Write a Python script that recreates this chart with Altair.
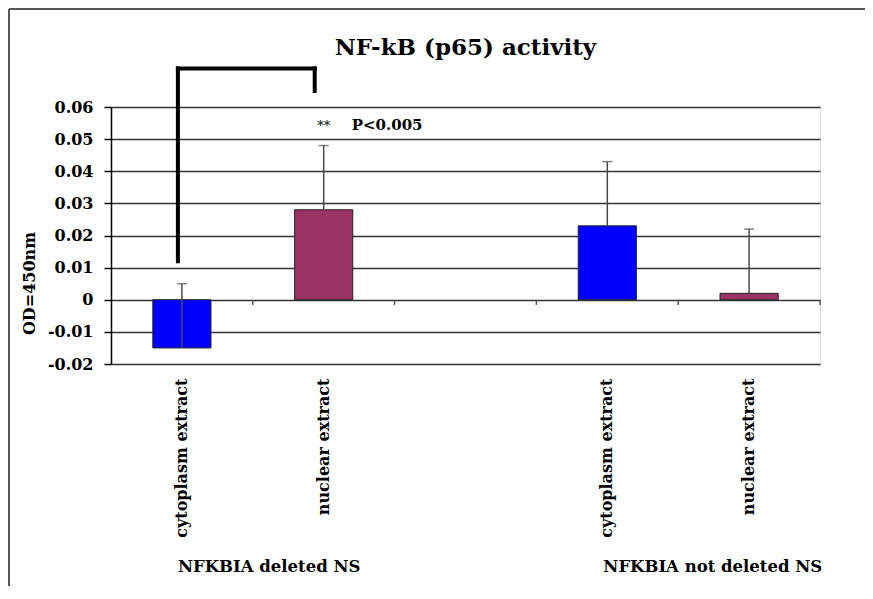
import altair as alt
import pandas as pd

# ---- data ----
categories = ["cyto_del", "nuc_del", "gap", "cyto_not", "nuc_not"]
category_labels = ["cytoplasm extract", "nuclear extract", "", "cytoplasm extract", "nuclear extract"]

bar_categories = ["cyto_del", "nuc_del", "cyto_not", "nuc_not"]
bar_fraction = ["cytoplasm", "nuclear", "cytoplasm", "nuclear"]
bar_values = [-0.015, 0.028, 0.023, 0.002]
error_values = [0.020, 0.020, 0.020, 0.020]

group_anchor = ["cyto_del", "cyto_not"]
group_labels = ["NFKBIA deleted NS", "NFKBIA not deleted NS"]

y_ticks = [-0.02, -0.01, 0.0, 0.01, 0.02, 0.03, 0.04, 0.05, 0.06]

# significance bracket (data units)
bracket_left_cat = "cyto_del"
bracket_right_cat = "nuc_del"
bracket_left_bottom = 0.012
bracket_top = 0.072
bracket_right_bottom = 0.065
stars_text = "**"
stars_y = 0.054
pvalue_text = "P<0.005"
pvalue_y = 0.0545

FONT = "DejaVu Serif"
BLUE = "#0000FF"
MAROON = "#993366"

bars = pd.DataFrame({
    "cat": bar_categories,
    "fraction": bar_fraction,
    "value": bar_values,
    "upper": [v + e for v, e in zip(bar_values, error_values)],
})

label_expr = " : ".join(
    f"datum.value == '{k}' ? '{v}'" for k, v in zip(categories, category_labels)
) + " : ''"

x_scale = alt.Scale(domain=categories, paddingInner=0, paddingOuter=0)
y_scale = alt.Scale(domain=[-0.02, 0.06], nice=False, zero=False)

x_axis = alt.Axis(
    labelExpr=label_expr, labelAngle=270, labelFont=FONT, labelFontSize=16,
    labelFontWeight="bold", labelColor="black", labelPadding=14,
    ticks=False, tickSize=0, domain=False, grid=False, labelLimit=300,
)

y_axis = alt.Axis(
    values=y_ticks, tickCount=9, labelOverlap=False,
    labelExpr="datum.value == 0 ? '0' : (datum.value < 0 ? '-' + format(-datum.value, '.2f') : format(datum.value, '.2f'))",
    labelFont=FONT, labelFontSize=16, labelFontWeight="bold", labelColor="black",
    labelPadding=11, tickSize=7, tickColor="black", tickWidth=1.5,
    domainColor="black", domainWidth=1.5,
    grid=True, gridColor="#333333", gridWidth=1.5,
    title="OD=450nm", titleFont=FONT, titleFontSize=16, titleFontWeight="bold",
    titleColor="black", titleAngle=270, titleX=-82, titleY=176,
    titleAlign="center", titleBaseline="middle",
)


def X(field, **kw):
    return alt.X(field, scale=x_scale, sort=categories, title=None, axis=x_axis, **kw)


def Y(field):
    return alt.Y(field, scale=y_scale, axis=y_axis)


bar_layer = alt.Chart(bars).mark_bar(
    width=alt.RelativeBandSize(0.41), stroke="#222222", strokeWidth=1
).encode(
    x=X("cat:N"),
    y=Y("value:Q"),
    color=alt.Color("fraction:N", scale=alt.Scale(domain=["cytoplasm", "nuclear"], range=[BLUE, MAROON]), legend=None),
)

err_line = alt.Chart(bars).mark_rule(color="#4a4a4a", strokeWidth=1.5).encode(
    x=X("cat:N"), y=Y("value:Q"), y2="upper:Q",
)
err_cap = alt.Chart(bars).mark_tick(color="#4a4a4a", thickness=1.5, size=10, orient="horizontal").encode(
    x=X("cat:N"), y=Y("upper:Q"),
)

# x-axis line at zero with tick marks at category boundaries
zero_df = pd.DataFrame({"cat": categories})
zero_ticks = alt.Chart(zero_df).mark_rule(color="#555555", strokeWidth=1.5).encode(
    x=X("cat:N", bandPosition=1),
    y=alt.YDatum(0.0),
    y2=alt.Y2Datum(-0.0016),
)

# bracket
br_df = pd.DataFrame({"l": [bracket_left_cat], "r": [bracket_right_cat],
                      "lb": [bracket_left_bottom], "top": [bracket_top], "rb": [bracket_right_bottom]})
br_left = alt.Chart(br_df).mark_rule(color="black", strokeWidth=4, xOffset=-4, strokeCap="square").encode(
    x=X("l:N"), y=Y("lb:Q"), y2="top:Q")
br_top = alt.Chart(br_df).mark_rule(color="black", strokeWidth=4, xOffset=-4, x2Offset=-9, strokeCap="square").encode(
    x=X("l:N"), x2="r:N", y=Y("top:Q"))
br_right = alt.Chart(br_df).mark_rule(color="black", strokeWidth=4, xOffset=-9, strokeCap="square").encode(
    x=X("r:N"), y=Y("rb:Q"), y2="top:Q")

ann_df = pd.DataFrame({"cat": [bracket_right_cat], "stars": [stars_text], "sy": [stars_y],
                       "p": [pvalue_text], "py": [pvalue_y]})
stars = alt.Chart(ann_df).mark_text(font=FONT, fontSize=13, color="black", align="center", baseline="middle").encode(
    x=X("cat:N"), y=Y("sy:Q"), text="stars:N")
pval = alt.Chart(ann_df).mark_text(font=FONT, fontSize=15, fontWeight="bold", color="black",
                                   align="left", baseline="middle", dx=28).encode(
    x=X("cat:N"), y=Y("py:Q"), text="p:N")

grp_df = pd.DataFrame({"cat": group_anchor, "label": group_labels})
groups = alt.Chart(grp_df).mark_text(font=FONT, fontSize=16.5, fontWeight="bold", color="black",
                                     align="left", baseline="middle", dx=-4).encode(
    x=X("cat:N"), y=alt.value(460), text="label:N")

# outer frame (top and left edges)
frame_top = alt.Chart(zero_df.head(1)).mark_rule(color="#555555", strokeWidth=2).encode(
    x=alt.value(-102), x2=alt.value(760), y=alt.value(-98))
frame_left = alt.Chart(zero_df.head(1)).mark_rule(color="#555555", strokeWidth=2).encode(
    x=alt.value(-102), y=alt.value(-98), y2=alt.value(490))

chart = alt.layer(
    frame_top, frame_left, bar_layer, zero_ticks, err_line, err_cap,
    br_left, br_top, br_right, stars, pval, groups,
).properties(
    width=709, height=257,
    title=alt.Title("NF-kB (p65) activity", font=FONT, fontSize=23, fontWeight="bold",
                    color="black", anchor="middle", frame="group", offset=-52),
    autosize=alt.AutoSizeParams(type="none"),
    padding={"left": 103, "top": 99, "right": 45, "bottom": 222},
).configure_view(stroke=None).configure(background="white")

chart.save("out.html", embed_options={"renderer": "svg", "actions": False})
